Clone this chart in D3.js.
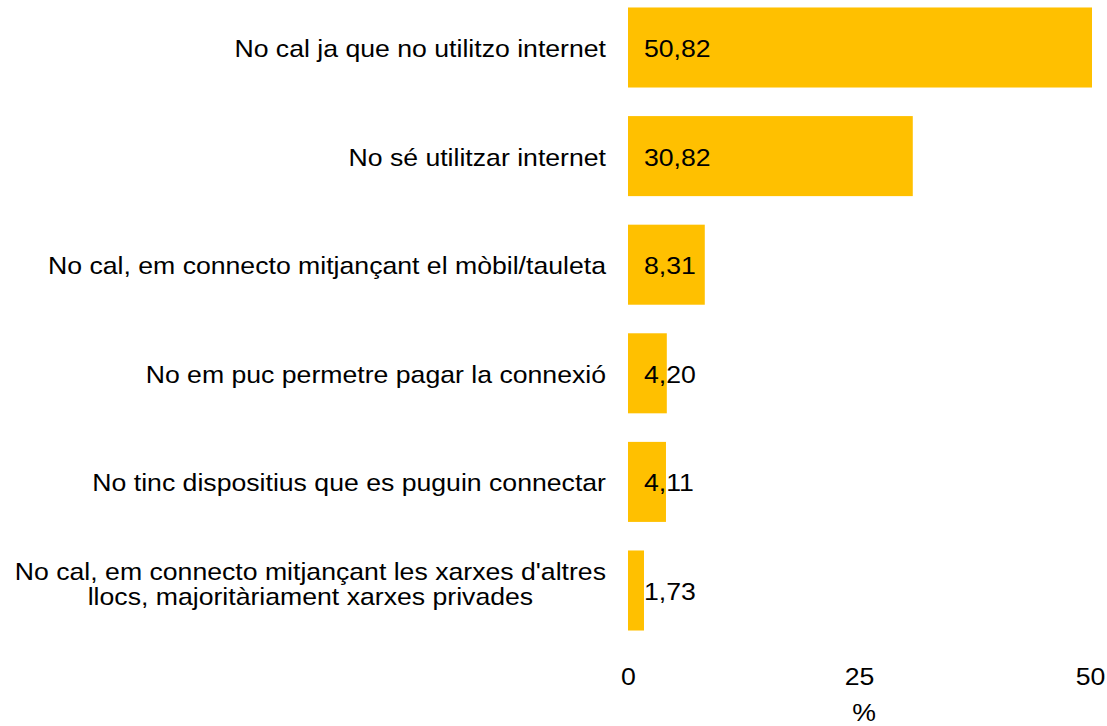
<!DOCTYPE html>
<html>
<head>
<meta charset="utf-8">
<script src="https://cdn.jsdelivr.net/npm/d3@7"></script>
<style>
    body { margin: 0; background: #fff; }
    text { font-family: "Liberation Sans", Arial, sans-serif; fill: #000; }
</style>
</head>
<body>
<div id="content"></div>
<script>
// data
const categories = [
    ["No cal ja que no utilitzo internet"],
    ["No sé utilitzar internet"],
    ["No cal, em connecto mitjançant el mòbil/tauleta"],
    ["No em puc permetre pagar la connexió"],
    ["No tinc dispositius que es puguin connectar"],
    ["No cal, em connecto mitjançant les xarxes d'altres", "llocs, majoritàriament xarxes privades"]
];
const values = [50.82, 30.82, 8.31, 4.20, 4.11, 1.73];
const valueLabels = ["50,82", "30,82", "8,31", "4,20", "4,11", "1,73"];
const ticks = [0, 25, 50];
const axisTitle = "%";

const width = 1107, height = 726;
const fontSize = 24;
const stretch = 1.11; // the original text is a bit wider than Liberation Sans
const labelRight = 606;

// horizontal stretch around an anchor x
function widen(ax) {
    return "translate(" + ax + ",0) scale(" + stretch + ",1) translate(" + (-ax) + ",0)";
}

const svg = d3.select("#content").append("svg")
    .attr("width", width)
    .attr("height", height);

const x = d3.scaleLinear()
    .domain([0, 50])
    .range([628, 1090]);

const y = d3.scaleBand()
    .domain(d3.range(values.length))
    .range([-6.8, 644.8])
    .paddingInner(0.263)
    .paddingOuter(0.1315);

// plot area clips the longest bar
svg.append("clipPath").attr("id", "plot")
    .append("rect")
    .attr("x", 628).attr("y", 0)
    .attr("width", 1092 - 628).attr("height", 650);

svg.append("g").attr("clip-path", "url(#plot)")
    .selectAll("rect")
    .data(values)
    .enter()
    .append("rect")
    .attr("x", x(0))
    .attr("y", (d, i) => y(i))
    .attr("width", d => x(d) - x(0))
    .attr("height", y.bandwidth())
    .attr("fill", "#FFC000");

// value labels
svg.append("g")
    .selectAll("text")
    .data(valueLabels)
    .enter()
    .append("text")
    .attr("x", x(0) + 16)
    .attr("y", (d, i) => y(i) + y.bandwidth() / 2 + 9.5)
    .attr("transform", widen(x(0) + 16))
    .attr("font-size", fontSize)
    .text(d => d);

// category labels: right edge at labelRight, wrapped lines centred in their block
const cat = svg.append("g")
    .selectAll("text")
    .data(categories)
    .enter()
    .append("text")
    .attr("font-size", fontSize)
    .attr("transform", widen(labelRight))
    .attr("y", (d, i) => y(i) + y.bandwidth() / 2 + (d.length > 1 ? -10.5 : 9.5));

cat.each(function (d) {
    const t = d3.select(this);
    const spans = t.selectAll("tspan")
        .data(d)
        .enter()
        .append("tspan")
        .attr("dy", (s, i) => i === 0 ? 0 : 25)
        .text(s => s);
    let maxw = 0;
    spans.each(function () { maxw = Math.max(maxw, this.getComputedTextLength()); });
    const cx = labelRight - maxw / 2;
    t.attr("text-anchor", "middle");
    spans.attr("x", cx);
});

// x axis (labels only)
const axis = svg.append("g")
    .attr("transform", "translate(0,661)")
    .call(d3.axisBottom(x).tickValues(ticks).tickSize(0).tickPadding(0).tickFormat(d3.format("d")));
axis.select(".domain").remove();
axis.selectAll("text")
    .attr("font-size", fontSize)
    .attr("font-family", "Liberation Sans, Arial, sans-serif")
    .attr("fill", "#000")
    .attr("dy", "0.99em")
    .attr("transform", "scale(" + stretch + ",1)");

svg.append("text")
    .attr("x", 864)
    .attr("y", 721)
    .attr("text-anchor", "middle")
    .attr("font-size", fontSize)
    .attr("transform", widen(864))
    .text(axisTitle);
</script>
</body>
</html>
